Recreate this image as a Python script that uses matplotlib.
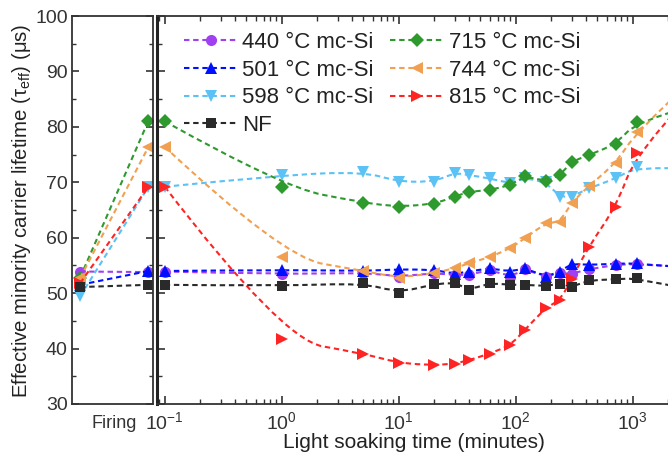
import numpy as np
import matplotlib
matplotlib.use("Agg")
import matplotlib.pyplot as plt
from matplotlib.path import Path
from matplotlib.patches import PathPatch
from matplotlib.lines import Line2D
from matplotlib.ticker import MultipleLocator, LogLocator, NullFormatter

plt.rcParams['font.family'] = ['Liberation Sans', 'DejaVu Sans']
plt.rcParams['mathtext.fontset'] = 'custom'
plt.rcParams['mathtext.rm'] = 'Liberation Sans'
plt.rcParams['mathtext.it'] = 'Liberation Sans:italic'

# light soaking times (minutes); last one lies past the cropped right edge
times = [0.1, 1, 5, 10, 20, 30, 40, 60, 90, 120, 180, 240, 300, 420, 720, 1080, 2880]

labels = ['440 °C mc-Si', '501 °C mc-Si', '598 °C mc-Si', 'NF',
          '715 °C mc-Si', '744 °C mc-Si', '815 °C mc-Si']

# firing panel: before / after firing
before_firing = [53.9, 51.5, 49.4, 51.1, 52.8, 52.7, 51.8]
after_firing = [53.8, 54.0, 69.2, 51.5, 81.1, 76.4, 69.2]

tau_440 = [53.9, 53.4, 53.7, 53.0, 53.6, 53.3, 53.3, 54.2, 53.0, 54.3, 53.0, 53.6, 53.5, 54.3, 55.1, 55.3, 54.7]
tau_501 = [54.0, 54.2, 54.0, 54.3, 54.2, 53.5, 53.9, 54.5, 53.9, 54.5, 53.0, 53.9, 55.3, 55.1, 55.3, 55.4, 54.6]
tau_598 = [69.2, 71.3, 71.9, 70.1, 70.1, 71.7, 71.3, 70.7, 69.8, 70.8, 70.0, 67.4, 67.4, 68.9, 70.7, 72.8, 72.5]
tau_nf = [51.5, 51.3, 51.8, 50.1, 51.6, 51.9, 50.6, 51.8, 51.5, 51.5, 51.3, 51.7, 51.1, 52.3, 52.5, 52.7, 50.8]
tau_715 = [81.0, 69.2, 66.3, 65.6, 66.1, 67.4, 68.3, 68.6, 69.5, 71.1, 70.2, 71.3, 73.7, 74.9, 76.9, 80.9, 83.5]
tau_744 = [76.4, 56.6, 54.0, 52.8, 53.6, 54.5, 55.4, 56.5, 58.1, 59.9, 62.6, 62.9, 66.3, 69.3, 73.5, 79.1, 87.5]
tau_815 = [69.2, 41.7, 39.1, 37.4, 37.0, 37.3, 37.9, 39.1, 40.6, 43.4, 47.3, 48.8, 52.5, 58.4, 65.6, 75.3, 85.0]

series = [tau_440, tau_501, tau_598, tau_nf, tau_715, tau_744, tau_815]
colors = ['#A040F0', '#0010FF', '#5CC2F5', '#2A2A2A', '#2E9A2E', '#F0A050', '#FF2424']
markers = ['o', '^', 'v', 's', 'D', '<', '>']
msizes = [8, 8, 8, 7, 7, 8, 8]
draw_order = [0, 1, 2, 4, 5, 6, 3]

DASH = (0, (2.6, 1.8))
AXC = '#333333'


def spline_path(x, y):
    # quadratic B-spline through the points as control polygon (log x)
    x = np.asarray(x, float)
    y = np.asarray(y, float)
    lx = np.log10(x)
    verts = [(x[0], y[0])]
    codes = [Path.MOVETO]
    n = len(x)
    for i in range(1, n - 1):
        if i < n - 2:
            ex = 10 ** ((lx[i] + lx[i + 1]) / 2)
            ey = (y[i] + y[i + 1]) / 2
        else:
            ex, ey = x[-1], y[-1]
        verts += [(x[i], y[i]), (ex, ey)]
        codes += [Path.CURVE3, Path.CURVE3]
    return Path(verts, codes)


W, H = 668, 459
fig = plt.figure(figsize=(W / 100, H / 100), dpi=100)
ax0 = fig.add_axes([72 / W, 55 / H, 80.5 / W, 388 / H])
ax1 = fig.add_axes([157 / W, 55 / H, 518 / W, 388 / H])

# firing panel
for i in draw_order:
    ax0.plot([0, 1], [before_firing[i], after_firing[i]], color=colors[i],
             linestyle=DASH, lw=1.5, marker=markers[i], ms=msizes[i],
             markeredgewidth=0)
ax0.set_xlim(-0.118, 1.059)
ax0.set_ylim(30, 100)
ax0.set_xticks([0.5])
ax0.set_xticklabels(['Firing'])
ax0.tick_params(axis='x', length=0, pad=8, labelsize=13, colors=AXC)
ax0.yaxis.set_major_locator(MultipleLocator(10))
ax0.yaxis.set_minor_locator(MultipleLocator(5))
ax0.tick_params(axis='y', which='both', direction='in', left=True, right=True,
                labelsize=14, pad=3, colors=AXC)
ax0.tick_params(axis='y', which='major', length=5, width=1.2)
ax0.tick_params(axis='y', which='minor', length=3, width=1.0)
for sp in ax0.spines.values():
    sp.set_color(AXC)
    sp.set_linewidth(1.3)

# light soaking panel
ax1.set_xscale('log')
for i in draw_order:
    patch = PathPatch(spline_path(times, series[i]), fill=False,
                      edgecolor=colors[i], linestyle=DASH, lw=1.5)
    ax1.add_patch(patch)
    ax1.plot(times, series[i], linestyle='none', color=colors[i],
             marker=markers[i], ms=msizes[i], markeredgewidth=0)
ax1.set_xlim(0.0859, 2300)
ax1.set_ylim(30, 100)
ax1.xaxis.set_major_locator(LogLocator(base=10))
ax1.xaxis.set_minor_locator(LogLocator(base=10, subs=np.arange(2, 10)))
ax1.xaxis.set_minor_formatter(NullFormatter())
ax1.yaxis.set_major_locator(MultipleLocator(10))
ax1.yaxis.set_minor_locator(MultipleLocator(5))
ax1.tick_params(which='both', direction='in', top=True, bottom=True,
                left=True, right=False, labelleft=False, colors=AXC)
ax1.tick_params(which='major', length=6, width=1.2)
ax1.tick_params(which='minor', length=3.5, width=1.0)
ax1.tick_params(axis='x', labelsize=14, pad=5)
for sp in ax1.spines.values():
    sp.set_color(AXC)
    sp.set_linewidth(1.3)
ax1.spines['left'].set_linewidth(2.2)
ax1.spines['left'].set_color('#222222')

fig.text(414 / W, 1 - 443 / H, 'Light soaking time (minutes)', ha='center',
         va='center', fontsize=15, color='#222222')
fig.text(22 / W, 1 - 211 / H,
         r'Effective minority carrier lifetime (τ$_{\mathrm{eff}}$) (μs)',
         ha='center', va='center', rotation=90, fontsize=14.7, color='#222222')

handles = [Line2D([], [], color=colors[i], linestyle=DASH, lw=1.5,
                  marker=markers[i], ms=msizes[i], markeredgewidth=0)
           for i in range(len(labels))]
leg = ax1.legend(handles, labels, ncol=2, loc='upper left',
                 bbox_to_anchor=(184 / W, 1 - 32 / H),
                 bbox_transform=fig.transFigure, frameon=False,
                 fontsize=16, handlelength=2.4, handletextpad=0.22,
                 columnspacing=0.75, labelspacing=0.3, borderpad=0,
                 borderaxespad=0)
for t in leg.get_texts():
    t.set_color('#222222')

fig.savefig('out.png', dpi=100)
